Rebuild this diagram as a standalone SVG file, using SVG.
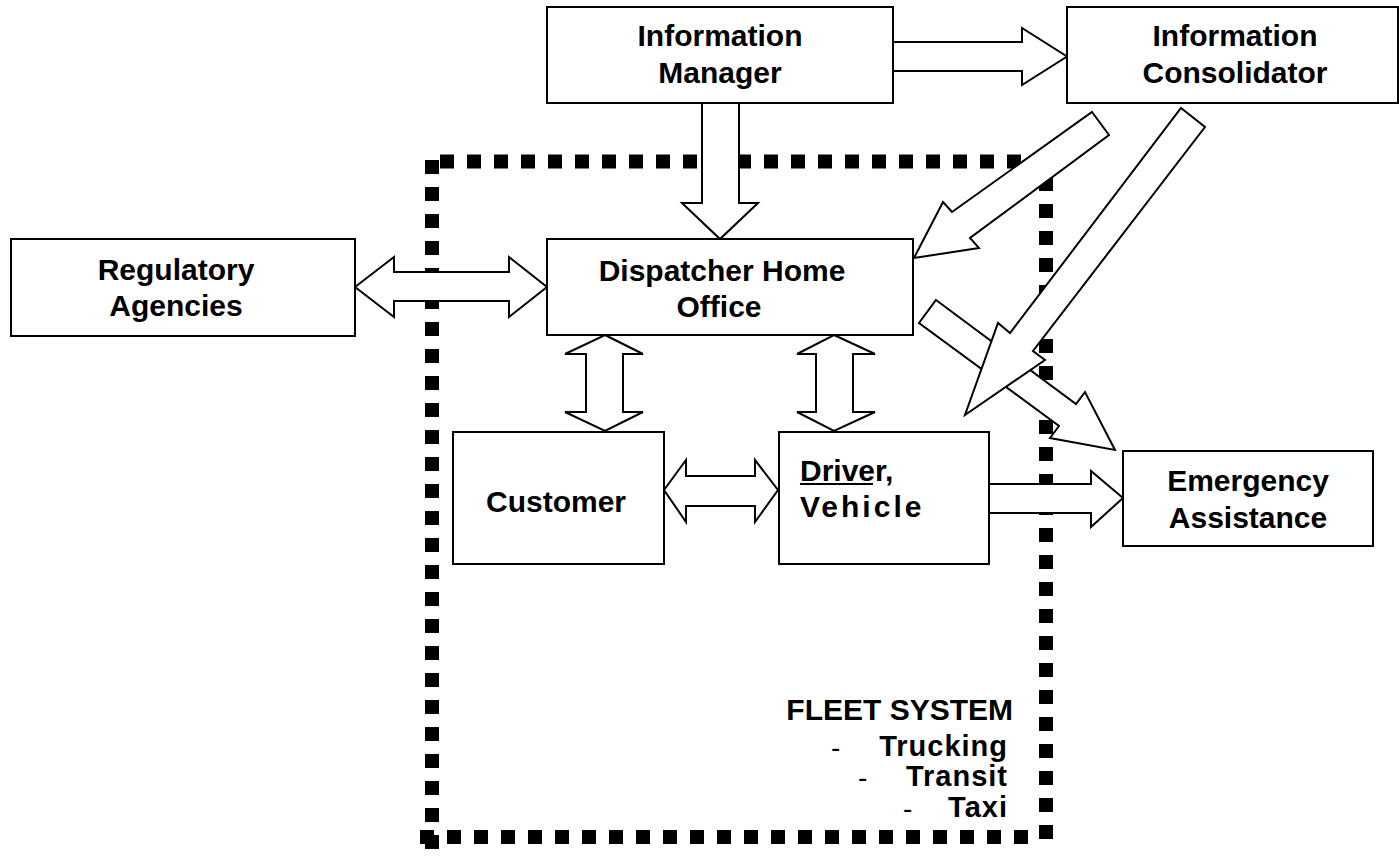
<svg xmlns="http://www.w3.org/2000/svg" width="1399" height="859" viewBox="0 0 1399 859">
<style>
  .box { fill: #ffffff; stroke: #000000; stroke-width: 2; }
  .arr { fill: #ffffff; stroke: #000000; stroke-width: 2; stroke-linejoin: miter; }
  .lbl { font-family: "Liberation Sans", Arial, Helvetica, sans-serif; font-weight: bold; font-size: 30px; fill: #000000; text-anchor: middle; }
  .fleet { font-family: "Liberation Sans", Arial, Helvetica, sans-serif; font-weight: bold; font-size: 29px; fill: #000000; text-anchor: end; }
  .dash { font-family: "Liberation Sans", Arial, Helvetica, sans-serif; font-size: 28px; fill: #000000; }
  .dot { stroke: #000000; stroke-width: 14; stroke-dasharray: 14 13; fill: none; }
</style>
<rect width="1399" height="859" fill="#ffffff"/>

<g id="fleet-boundary">
  <line class="dot" x1="440" y1="161.5" x2="1040" y2="161.5"/>
  <line class="dot" x1="432" y1="160" x2="432" y2="850"/>
  <line class="dot" x1="420" y1="837" x2="1032" y2="837"/>
  <line class="dot" x1="1046" y1="177" x2="1046" y2="845"/>
</g>

<g id="connectors">
  <polygon class="arr" points="893,42 1022,42 1022,28 1067,56.5 1022,85 1022,71 893,71"/>
  <polygon class="arr" points="702,103 739,103 739,203 758,203 720,239 682,203 702,203"/>
  <polygon class="arr" points="355,287 394,257 394,272 509,272 509,257 547,287 509,317 509,301 394,301 394,317"/>
  <polygon class="arr" points="664,490 686,460 686,476 755,476 755,460 778,490 755,522 755,506 686,506 686,522"/>
  <polygon class="arr" points="605,335 643,354 623,354 623,412 643,412 605,431 565,412 586,412 586,354 565,354"/>
  <polygon class="arr" points="834,335 875,354 853,354 853,412 875,412 834,431 797,412 816,412 816,354 797,354"/>
  <polygon class="arr" points="989,484 1091,484 1091,471 1123,498 1091,527 1091,513 989,513"/>
  <polygon class="arr" points="1092,112 1109,135 970,238 979,248 914,258 943,202 952,212"/>
  <polygon class="arr" points="936,300 1076,404 1085,392 1115,450 1050,438 1059,426 919,323"/>
  <polygon class="arr" points="1181,108 1205,127 1033,351 1045,360 965,415 998,323 1010,333"/>
</g>

<g id="information-manager">
  <rect class="box" x="547" y="7" width="346" height="96"/>
  <text class="lbl" x="720" y="46">Information</text>
  <text class="lbl" x="720" y="83">Manager</text>
</g>

<g id="information-consolidator">
  <rect class="box" x="1067" y="7" width="331" height="96"/>
  <text class="lbl" x="1235" y="46">Information</text>
  <text class="lbl" x="1235" y="83">Consolidator</text>
</g>

<g id="regulatory-agencies">
  <rect class="box" x="11" y="239" width="344" height="97"/>
  <text class="lbl" x="176" y="280">Regulatory</text>
  <text class="lbl" x="176" y="316">Agencies</text>
</g>

<g id="dispatcher-home-office">
  <rect class="box" x="547" y="239" width="366" height="96"/>
  <text class="lbl" x="722" y="281">Dispatcher Home</text>
  <text class="lbl" x="719" y="317">Office</text>
</g>

<g id="customer">
  <rect class="box" x="453" y="432" width="211" height="132"/>
  <text class="lbl" x="556" y="512">Customer</text>
</g>

<g id="driver-vehicle">
  <rect class="box" x="779" y="432" width="210" height="132"/>
  <text class="lbl" x="800" y="481" style="text-anchor:start">Driver,</text>
  <line x1="800" y1="484" x2="873" y2="484" stroke="#000000" stroke-width="2"/>
  <text class="lbl" x="800" y="517" style="text-anchor:start; letter-spacing:3px">Vehicle</text>
</g>

<g id="emergency-assistance">
  <rect class="box" x="1123" y="451" width="250" height="95"/>
  <text class="lbl" x="1248" y="491">Emergency</text>
  <text class="lbl" x="1248" y="528">Assistance</text>
</g>

<g id="fleet-label">
  <text class="fleet" x="1013" y="720" style="font-size:30px">FLEET SYSTEM</text>
  <text class="dash" x="831" y="757">-</text>
  <text class="fleet" x="1008" y="756" style="letter-spacing:1px">Trucking</text>
  <text class="dash" x="858" y="787">-</text>
  <text class="fleet" x="1008" y="786" style="letter-spacing:1px">Transit</text>
  <text class="dash" x="903" y="818">-</text>
  <text class="fleet" x="1008" y="817" style="letter-spacing:1px">Taxi</text>
</g>
</svg>
